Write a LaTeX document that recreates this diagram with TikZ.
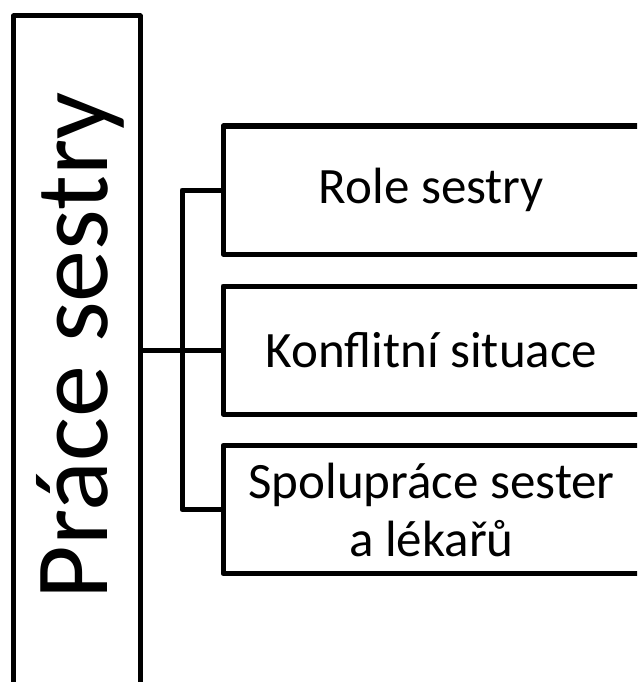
\documentclass[tikz,border=0pt]{standalone}
\usepackage{fontspec}
\setmainfont{Carlito}
\begin{document}
\begin{tikzpicture}[x=1pt,y=-1pt,
  line width=5pt, line join=round,
  box/.style={draw, rectangle, line width=5pt, outer sep=0pt, minimum width=417pt, minimum height=128pt, inner sep=0pt, align=center, font=\fontsize{51}{58}\selectfont},
  conn/.style={draw, line width=5pt, line join=round}]
\useasboundingbox (0,0) rectangle (637,682);
\clip (0,0) rectangle (637,682);
\node[draw, rectangle, line width=5pt, outer sep=0pt, minimum width=126.5pt, minimum height=684pt, inner sep=0pt] (main) at (76.75,358) {};
\node[rotate=90, anchor=base, font=\fontsize{104}{120}\selectfont, inner sep=0pt] (title) at (107,346) {Práce sestry};
\node[box] (b1) at (431.5,190) {Role sestry};
\node[box] (b2) at (431.5,350) {Konflitní situace};
\node[box] (b3) at (431.5,509.5) {Spolupráce sester\\a lékařů};
\coordinate (bus) at (182,350);
\draw[conn] (main.east |- b2.west) -- (b2.west);
\draw[conn] (b1.west) -- (b1.west -| bus) -- (b3.west -| bus) -- (b3.west);
\end{tikzpicture}
\end{document}
